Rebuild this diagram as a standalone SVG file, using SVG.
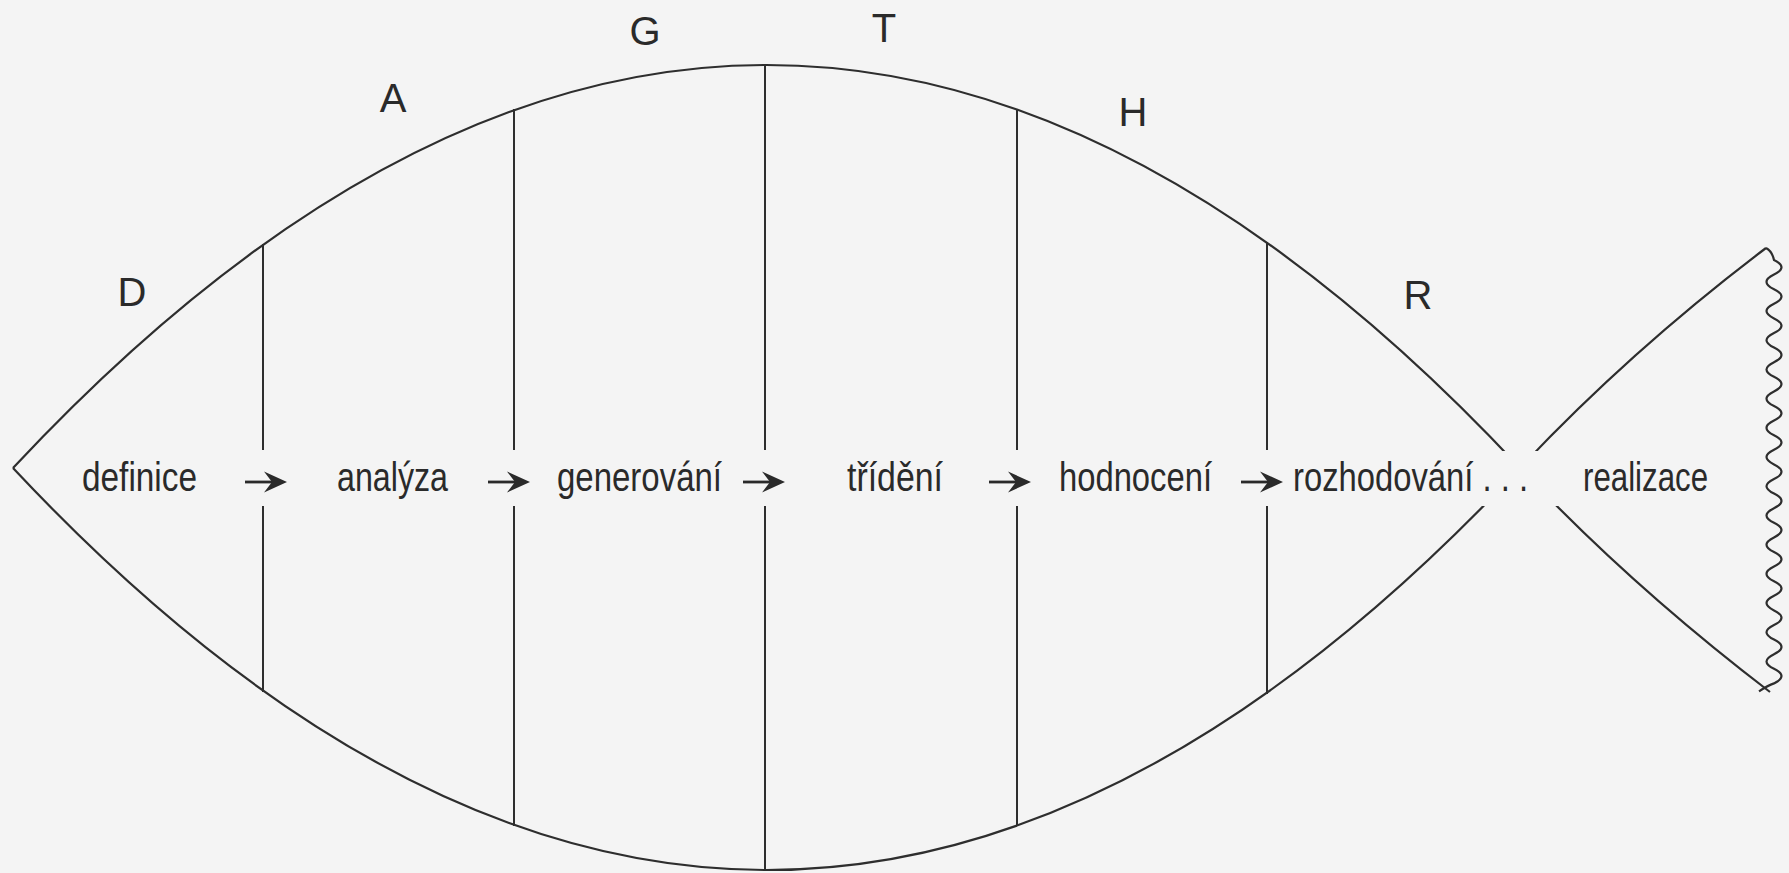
<svg xmlns="http://www.w3.org/2000/svg" width="1789" height="873" viewBox="0 0 1789 873">
  <style>
    .body { fill: none; stroke: #2e2e2e; stroke-width: 2.2; }
    .div { stroke: #2e2e2e; stroke-width: 2; }
    .lbl { font-family: "Liberation Sans", Arial, sans-serif; font-size: 40px; fill: #2a2a2a; }
    .let { font-family: "Liberation Sans", Arial, sans-serif; font-size: 40px; fill: #2a2a2a; text-anchor: middle; }
    .stem { stroke: #2a2a2a; stroke-width: 2.8; }
    .head { fill: #2a2a2a; }
  </style>
  <defs>
    <clipPath id="gap">
      <path clip-rule="evenodd" d="M0,0H1789V873H0Z M1476,451H1564V506H1476Z"/>
    </clipPath>
    <g id="arrow">
      <line class="stem" x1="-42" y1="0" x2="-15" y2="0"/>
      <path class="head" d="M0,0 L-23,-10.5 L-15,0 L-23,10.5 Z"/>
    </g>
  </defs>
  <rect width="1789" height="873" fill="#f4f4f4"/>

  <g id="fish-body" clip-path="url(#gap)">
    <path class="body" d="M13,468 Q766.5,-338 1520,468 Q1630,585 1770,692"/>
    <path class="body" d="M13,468 Q766.5,1272 1520,468 Q1630,351 1766,248"/>
  </g>
  <path id="tail-edge" class="body" d="M1766,248 Q1772,251 1774,260 q15,7.3 0,14.6 q-15,7.3 0,14.6 q15,7.3 0,14.6 q-15,7.3 0,14.6 q15,7.3 0,14.6 q-15,7.3 0,14.6 q15,7.3 0,14.6 q-15,7.3 0,14.6 q15,7.3 0,14.6 q-15,7.3 0,14.6 q15,7.3 0,14.6 q-15,7.3 0,14.6 q15,7.3 0,14.6 q-15,7.3 0,14.6 q15,7.3 0,14.6 q-15,7.3 0,14.6 q15,7.3 0,14.6 q-15,7.3 0,14.6 q15,7.3 0,14.6 q-15,7.3 0,14.6 q15,7.3 0,14.6 q-15,7.3 0,14.6 q15,7.3 0,14.6 q-15,7.3 0,14.6 q15,7.3 0,14.6 q-15,7.3 0,14.6 q15,7.3 0,14.6 q-15,7.3 0,14.6 q15,7.3 0,14.6 q-6,2 -15,8"/>

  <g id="dividers">
    <line class="div" x1="263" y1="244" x2="263" y2="450"/>
    <line class="div" x1="263" y1="506" x2="263" y2="692"/>
    <line class="div" x1="514" y1="109" x2="514" y2="450"/>
    <line class="div" x1="514" y1="506" x2="514" y2="826"/>
    <line class="div" x1="765" y1="64" x2="765" y2="450"/>
    <line class="div" x1="765" y1="506" x2="765" y2="871"/>
    <line class="div" x1="1017" y1="109" x2="1017" y2="450"/>
    <line class="div" x1="1017" y1="506" x2="1017" y2="826"/>
    <line class="div" x1="1267" y1="242" x2="1267" y2="450"/>
    <line class="div" x1="1267" y1="506" x2="1267" y2="694"/>
  </g>

  <g id="node-definice">
    <text class="let" x="132" y="306">D</text>
    <text class="lbl" x="82" y="491" textLength="115" lengthAdjust="spacingAndGlyphs">definice</text>
  </g>
  <g id="node-analyza">
    <text class="let" x="393" y="112">A</text>
    <text class="lbl" x="337" y="491" textLength="111" lengthAdjust="spacingAndGlyphs">analýza</text>
  </g>
  <g id="node-generovani">
    <text class="let" x="645" y="45">G</text>
    <text class="lbl" x="557" y="491" textLength="165" lengthAdjust="spacingAndGlyphs">generování</text>
  </g>
  <g id="node-trideni">
    <text class="let" x="884" y="42">T</text>
    <text class="lbl" x="847" y="491" textLength="96" lengthAdjust="spacingAndGlyphs">třídění</text>
  </g>
  <g id="node-hodnoceni">
    <text class="let" x="1133" y="126">H</text>
    <text class="lbl" x="1059" y="491" textLength="153" lengthAdjust="spacingAndGlyphs">hodnocení</text>
  </g>
  <g id="node-rozhodovani">
    <text class="let" x="1418" y="309">R</text>
    <text class="lbl" x="1293" y="491" textLength="235" lengthAdjust="spacingAndGlyphs">rozhodování . . .</text>
  </g>
  <g id="node-realizace">
    <text class="lbl" x="1583" y="491" textLength="125" lengthAdjust="spacingAndGlyphs">realizace</text>
  </g>

  <g id="connectors">
    <use href="#arrow" x="287" y="482"/>
    <use href="#arrow" x="530" y="482"/>
    <use href="#arrow" x="785" y="482"/>
    <use href="#arrow" x="1031" y="482"/>
    <use href="#arrow" x="1283" y="482"/>
  </g>
</svg>
